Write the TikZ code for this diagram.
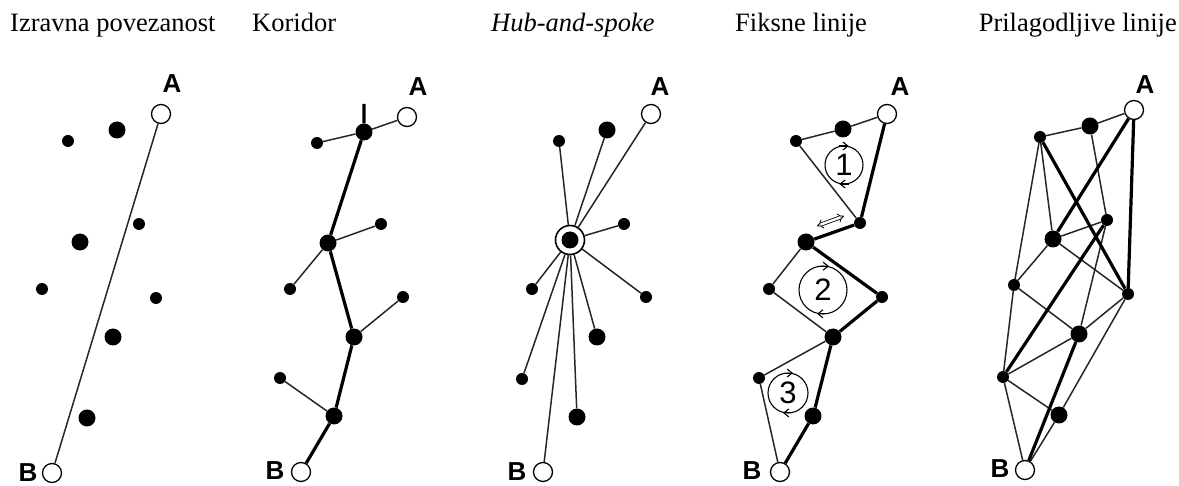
\documentclass[tikz,border=0pt]{standalone}
\usepackage{fontspec}
\setmainfont{Liberation Serif}
\newfontfamily\labfont{Liberation Sans}
\usetikzlibrary{arrows.meta}
\begin{document}
\begin{tikzpicture}[x=1pt,y=-1pt,
 opendot/.style={circle,draw,fill=white,line width=1.3pt,minimum size=19pt,inner sep=0pt},
 bigdot/.style={circle,fill,minimum size=17pt,inner sep=0pt},
 smalldot/.style={circle,fill,minimum size=12pt,inner sep=0pt},
 lab/.style={font=\labfont\bfseries\fontsize{26}{26}\selectfont,inner sep=0pt},
 hdr/.style={font=\fontsize{26.5}{30}\selectfont,anchor=base west,inner sep=0pt},
 thinl/.style={line width=1.5pt,black!85},
 thickl/.style={line width=3.2pt},
 hubring/.style={circle,draw,line width=1.6pt,fill=white,minimum size=29pt,inner sep=0pt},
 numc/.style={circle,draw,line width=1.1pt,inner sep=0pt,font=\labfont\fontsize{31}{31}\selectfont},
 rotarrow/.style={line width=1.1pt,-{Straight Barb[length=5pt,width=8pt]}},
]
\useasboundingbox (0,0) rectangle (1179,486);
% headers
\node[hdr] (h1) at (10,32) {Izravna povezanost};
\node[hdr] (h2) at (252,32) {Koridor};
\node[hdr] (h3) at (491,32) {\itshape Hub-and-spoke};
\node[hdr] (h4) at (735,32) {Fiksne linije};
\node[hdr,anchor=base east] (h5) at (1177,32) {Prilagodljive linije};

% ---------- panel 1
\node[opendot] (p1A) at (161,114) {};
\node[opendot] (p1B) at (52,473) {};
\node[lab] (p1la) at (172,84) {A};
\node[lab] (p1lb) at (28,473) {B};
\node[bigdot] (p1b1) at (117,130) {};
\node[bigdot] (p1b2) at (80,242) {};
\node[bigdot] (p1b3) at (113,337) {};
\node[bigdot] (p1b4) at (87,418) {};
\node[smalldot] (p1s1) at (68,141) {};
\node[smalldot] (p1s2) at (139,224) {};
\node[smalldot] (p1s3) at (42,289) {};
\node[smalldot] (p1s4) at (156,298) {};
\draw[thinl] (p1A) -- (p1B);

% ---------- panel 2
\node[opendot] (p2A) at (407,117) {};
\node[opendot] (p2B) at (301,472) {};
\node[lab] (p2la) at (418,87) {A};
\node[lab] (p2lb) at (275,471) {B};
\node[bigdot] (p2b1) at (364,132) {};
\node[bigdot] (p2b2) at (328,243) {};
\node[bigdot] (p2b3) at (354,337) {};
\node[bigdot] (p2b4) at (334,416) {};
\node[smalldot] (p2s1) at (317,143) {};
\node[smalldot] (p2s2) at (381,224) {};
\node[smalldot] (p2s3) at (290,289) {};
\node[smalldot] (p2s4) at (403,297) {};
\node[smalldot] (p2s5) at (280,378) {};
\coordinate (p2t) at (364,104);
\draw[thickl] (p2t) -- (p2b1) -- (p2b2) -- (p2b3) -- (p2b4) -- (p2B);
\draw[thinl] (p2A) -- (p2b1);
\draw[thinl] (p2b1) -- (p2s1);
\draw[thinl] (p2b2) -- (p2s2);
\draw[thinl] (p2b2) -- (p2s3);
\draw[thinl] (p2b3) -- (p2s4);
\draw[thinl] (p2b4) -- (p2s5);

% ---------- panel 3
\node[opendot] (p3A) at (651,114) {};
\node[opendot] (p3B) at (543,472) {};
\node[lab] (p3la) at (660,87) {A};
\node[lab] (p3lb) at (517,472) {B};
\node[hubring] (p3h) at (570,240) {};
\node[bigdot] (p3hd) at (570,240) {};
\node[bigdot] (p3b1) at (607,130) {};
\node[bigdot] (p3b3) at (597,337) {};
\node[bigdot] (p3b4) at (577,417) {};
\node[smalldot] (p3s1) at (559,141) {};
\node[smalldot] (p3s2) at (624,224) {};
\node[smalldot] (p3s3) at (532,289) {};
\node[smalldot] (p3s4) at (646,297) {};
\node[smalldot] (p3s5) at (522,379) {};
\foreach \t in {p3A,p3B,p3b1,p3b3,p3b4,p3s1,p3s2,p3s3,p3s4,p3s5}
  \draw[thinl] (p3h) -- (\t);

% ---------- panel 4
\node[opendot] (p4A) at (887,114) {};
\node[opendot] (p4B) at (780,472) {};
\node[lab] (p4la) at (900,87) {A};
\node[lab] (p4lb) at (752,471) {B};
\node[bigdot] (p4b1) at (843,129) {};
\node[bigdot] (p4b2) at (806,242) {};
\node[bigdot] (p4b3) at (833,337) {};
\node[bigdot] (p4b4) at (813,416) {};
\node[smalldot] (p4s1) at (796,141) {};
\node[smalldot] (p4s2) at (860,223) {};
\node[smalldot] (p4s3) at (769,289) {};
\node[smalldot] (p4s4) at (882,297) {};
\node[smalldot] (p4s5) at (759,378) {};
\draw[thinl] (p4A) -- (p4b1) -- (p4s1) -- (p4s2);
\draw[thickl] (p4A) -- (p4s2) -- (p4b2) -- (p4s4) -- (p4b3) -- (p4b4) -- (p4B);
\draw[thinl] (p4b2) -- (p4s3) -- (p4b3);
\draw[thinl] (p4b3) -- (p4s5) -- (p4B);
\node[numc,minimum size=38pt] (p4c1) at (844,165) {1};
\node[numc,minimum size=48pt] (p4c2) at (823,290) {2};
\node[numc,minimum size=40pt] (p4c3) at (788,393) {3};
\foreach \c in {p4c1,p4c2,p4c3}{
  \draw[rotarrow] (\c.104) -- (\c.76);
  \draw[rotarrow] (\c.284) -- (\c.256);
}
\coordinate (p4da) at (817,226);
\coordinate (p4db) at (844,216);
\draw[double,double distance=2.4pt,line width=0.8pt,{Implies}-{Implies}] (p4da) -- (p4db);

% ---------- panel 5
\node[opendot] (p5A) at (1134,110) {};
\node[opendot] (p5B) at (1025,470) {};
\node[lab] (p5la) at (1145,85) {A};
\node[lab] (p5lb) at (1000,469) {B};
\node[bigdot] (p5b1) at (1090,126) {};
\node[bigdot] (p5b2) at (1053,239) {};
\node[bigdot] (p5b3) at (1079,334) {};
\node[bigdot] (p5b4) at (1059,415) {};
\node[smalldot] (p5s1) at (1040,137) {};
\node[smalldot] (p5s2) at (1107,220) {};
\node[smalldot] (p5s3) at (1014,285) {};
\node[smalldot] (p5s4) at (1128,294) {};
\node[smalldot] (p5s5) at (1003,377) {};
\draw[thinl] (p5A) -- (p5b1) -- (p5s1);
\draw[thinl] (p5s1) -- (p5s3);
\draw[thinl] (p5s1) -- (p5b2);
\draw[thinl] (p5b1) -- (p5s2);
\draw[thinl] (p5b2) -- (p5s2);
\draw[thinl] (p5b2) -- (p5s3);
\draw[thinl] (p5b2) -- (p5s4);
\draw[thinl] (p5s2) -- (p5b3);
\draw[thinl] (p5s3) -- (p5b3);
\draw[thinl] (p5s3) -- (p5s5);
\draw[thinl] (p5s4) -- (p5b3);
\draw[thinl] (p5s4) -- (p5b4);
\draw[thinl] (p5s5) -- (p5b3);
\draw[thinl] (p5s5) -- (p5b4);
\draw[thinl] (p5s5) -- (p5B);
\draw[thinl] (p5b4) -- (p5B);
\draw[thickl] (p5s1) -- (p5s4);
\draw[thickl] (p5A) -- (p5b2);
\draw[thickl] (p5A) -- (p5s4);
\draw[thickl] (p5s2) -- (p5s5);
\draw[thickl] (p5b3) -- (p5B);
\end{tikzpicture}
\end{document}
